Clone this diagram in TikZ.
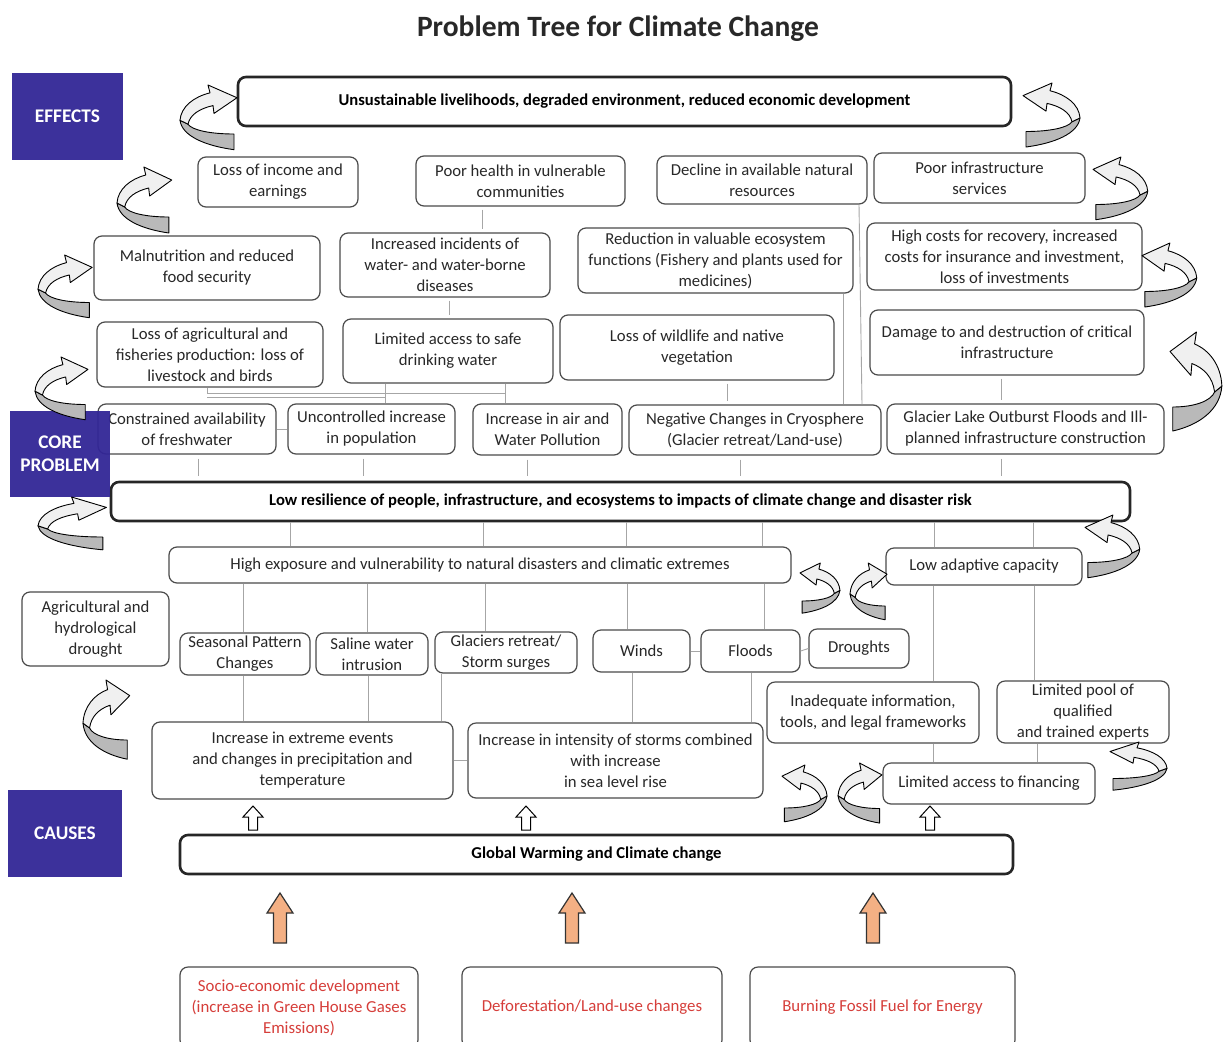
\documentclass[tikz,border=0pt]{standalone}
\usepackage{fontspec}
\setmainfont{Carlito}
\usetikzlibrary{calc}

\definecolor{band}{RGB}{50,38,150}
\definecolor{causered}{RGB}{214,62,58}
\definecolor{peach}{RGB}{244,176,132}
\definecolor{boxline}{RGB}{75,75,75}
\definecolor{ink}{RGB}{40,40,40}

% ribbon-style curled arrow, head at upper right, tail at lower right (57 x 66 box)
\newcommand\curlshape{%
  \filldraw[curldark] (0,36) .. controls (2,52) and (25,62) .. (54,66) -- (54,50)
    .. controls (30,50) and (12,46) .. (8,40) -- cycle;
  \filldraw[curllight] (0,36) .. controls (1,22) and (14,12) .. (30,8) -- (28,0) -- (57,13)
    -- (34,29) -- (33,21) .. controls (20,24) and (10,30) .. (8,40) -- cycle;
}

% node placed by its corners: [style]{x1}{y1}{x2}{y2}{name}{text}
\newcommand\nd[7][box]{\node[#1,minimum width={(#4-#2)*1pt},minimum height={(#5-#3)*1pt}]
  (#6) at ({(#2+#4)/2},{(#3+#5)/2}) {#7};}

\tikzset{
  box/.style={draw=boxline, line width=1.2pt, rounded corners=8pt, fill=white, align=center,
    text=ink, font=\fontsize{16.7}{21}\selectfont, inner sep=0pt},
  bigbox/.style={box, draw=black!85, line width=2.6pt, text=black,
    font=\bfseries\fontsize{16.6}{20}\selectfont},
  causebox/.style={box, text=causered, font=\fontsize{16.8}{21}\selectfont},
  tag/.style={fill=band, fill opacity=0.95, text opacity=1, text=white, align=center, inner sep=0pt,
    font=\bfseries\fontsize{19.3}{23}\selectfont},
  conn/.style={draw=gray!70, line width=0.9pt, shorten <=3pt, shorten >=3pt},
  wire/.style={draw=gray!70, line width=0.9pt},
  curldark/.style={fill=gray!55, draw=black, line width=0.9pt, line join=round},
  curllight/.style={fill=gray!12, draw=black, line width=0.9pt, line join=round},
  pics/curlL/.style={code={\curlshape}},
  pics/curlR/.style={code={\begin{scope}[shift={(57,0)},xscale=-1]\curlshape\end{scope}}},
  pics/hollowup/.style={code={\filldraw[fill=white, draw=black, line width=1pt, line join=miter]
    (-4.5,0) -- (-4.5,-13) -- (-10,-13) -- (0,-24) -- (10,-13) -- (4.5,-13) -- (4.5,0) -- cycle;}},
  pics/peachup/.style={code={\filldraw[fill=peach, draw=black!80, line width=1.2pt]
    (-6.5,0) -- (-6.5,-30) -- (-13,-30) -- (0,-50) -- (13,-30) -- (6.5,-30) -- (6.5,0) -- cycle;}},
}

\begin{document}
\begin{tikzpicture}[x=1pt,y=-1pt]
\useasboundingbox (0,0) rectangle (1225,1041);
\fill[white] (0,0) rectangle (1225,1041);
\clip (0,0) rectangle (1225,1041);

\node[font=\bfseries\fontsize{29.5}{34}\selectfont, text=ink] (title) at (618,29) {Problem Tree for Climate Change};

% ---------------- effects ----------------
\nd[bigbox]{238}{77}{1011}{126}{top}{Unsustainable livelihoods, degraded environment, reduced economic development}

\nd{198}{157}{358}{207}{income}{Loss of income and\\earnings}
\nd{416}{156}{625}{206}{health}{Poor health in vulnerable\\communities}
\nd{657}{156}{867}{204}{decline}{Decline in available natural\\resources}
\nd{874}{153}{1085}{203}{infra}{Poor infrastructure\\services}

\nd{94}{236}{320}{300}{malnut}{Malnutrition and reduced\\food security}
\nd{340}{233}{550}{297}{disease}{Increased incidents of\\water- and water-borne\\diseases}
\nd{578}{228}{853}{293}{ecosys}{Reduction in valuable ecosystem\\functions (Fishery and plants used for\\medicines)}
\nd{867}{223}{1142}{290}{costs}{High costs for recovery, increased\\costs for insurance and investment,\\loss of investments}

\nd{97}{322}{323}{387}{agri}{Loss of agricultural and\\fisheries production: loss of\\livestock and birds}
\nd{343}{319}{553}{383}{water}{Limited access to safe\\drinking water}
\nd{560}{315}{834}{380}{wildlife}{Loss of wildlife and native\\vegetation}
\nd{870}{310}{1144}{375}{damage}{Damage to and destruction of critical\\infrastructure}

% ---------------- core problem ----------------
\nd{98}{404}{276}{454}{fresh}{Constrained availability\\of freshwater}
\nd{288}{404}{455}{454}{pop}{Uncontrolled increase\\in population}
\nd{473}{404}{622}{455}{pollu}{Increase in air and\\Water Pollution}
\nd{629}{405}{881}{455}{cryo}{Negative Changes in Cryosphere\\(Glacier retreat/Land-use)}
\nd{887}{404}{1164}{454}{glof}{Glacier Lake Outburst Floods and Ill-\\planned infrastructure construction}

\nd[bigbox]{111}{482}{1130}{521}{core}{Low resilience of people, infrastructure, and ecosystems to impacts of climate change and disaster risk}

% ---------------- causes ----------------
\nd{169}{547}{791}{583}{expo}{High exposure and vulnerability to natural disasters and climatic extremes}
\nd{886}{548}{1082}{585}{adapt}{Low adaptive capacity}

\nd{22}{592}{169}{666}{drought}{Agricultural and\\hydrological\\drought}
\nd{180}{633}{310}{675}{season}{Seasonal Pattern\\Changes}
\nd{316}{633}{428}{675}{saline}{Saline water\\intrusion}
\nd{435}{632}{577}{673}{glacier}{Glaciers retreat/\\Storm surges}
\nd{593}{630}{690}{672}{winds}{Winds}
\nd{701}{630}{800}{672}{floods}{Floods}
\nd{809}{629}{909}{668}{droughts}{Droughts}

\nd{767}{682}{979}{743}{inadeq}{Inadequate information,\\tools, and legal frameworks}
\nd{997}{681}{1169}{743}{pool}{Limited pool of\\qualified\\and trained experts}

\nd{152}{722}{453}{799}{extreme}{Increase in extreme events\\and changes in precipitation and\\temperature}
\nd{468}{723}{763}{798}{storms}{Increase in intensity of storms combined\\with increase\\in sea level rise}
\nd{883}{763}{1095}{804}{finance}{Limited access to financing}

\nd[bigbox]{180}{835}{1013}{874}{gw}{Global Warming and Climate change}

\nd[causebox]{180}{967}{418}{1048}{socio}{Socio-economic development\\(increase in Green House Gases\\Emissions)}
\nd[causebox]{462}{967}{722}{1048}{defor}{Deforestation/Land-use changes}
\nd[causebox]{750}{967}{1015}{1048}{fossil}{Burning Fossil Fuel for Energy}

% ---------------- links between effects ----------------
\draw[conn] (health.south -| 482,0) -- (disease.north -| 482,0);
\draw[conn] (disease.south -| 449,0) -- (water.north -| 449,0);
\draw[wire] (agri.south -| 207,0) -- (207,393) -- (505,393);
\draw[wire] (207,397) -- (385,397);
\draw[wire] (water.south -| 385,0) -- (pop.north -| 385,0);
\draw[wire] (water.south -| 505,0) -- (pollu.north -| 505,0);
\draw[wire] (fresh.east) -- (pop.west);
\draw[conn] (wildlife.south -| 727,0) -- (cryo.north -| 727,0);
\draw[wire] (ecosys.south -| 843,0) -- (cryo.north -| 843,0);
\draw[wire] (decline.south -| 859,0) -- (cryo.north -| 862,0);
\draw[conn] (damage.south -| 1001,0) -- (glof.north -| 1001,0);

% ---------------- links to the core problem ----------------
\foreach \n/\x in {fresh/198, pop/363, pollu/527, cryo/740, glof/1001}
  \draw[conn, shorten <=4pt, shorten >=5pt] (\n.south -| \x,0) -- (core.north -| \x,0);
\foreach \x in {290, 483, 626, 762}
  \draw[wire] (core.south -| \x,0) -- (expo.north -| \x,0);
\foreach \x in {934, 1033}
  \draw[wire] (core.south -| \x,0) -- (adapt.north -| \x,0);

% ---------------- links among causes ----------------
\foreach \n/\x in {season/243, saline/367, glacier/485, winds/627, floods/764}
  \draw[wire] (expo.south -| \x,0) -- (\n.north -| \x,0);
\foreach \n/\x in {season/243, saline/368, glacier/441}
  \draw[wire] (\n.south -| \x,0) -- (extreme.north -| \x,0);
\foreach \n/\x in {winds/632, floods/751}
  \draw[wire] (\n.south -| \x,0) -- (storms.north -| \x,0);
\draw[wire] (extreme.east) -- (storms.west);
\draw[wire] (winds.east) -- (floods.west);
\draw[wire] (floods.east) -- (droughts.west);
\draw[wire] (adapt.south -| 933,0) -- (inadeq.north -| 933,0);
\draw[wire] (inadeq.south -| 933,0) -- (finance.north -| 933,0);
\draw[wire] (adapt.south -| 1034,0) -- (pool.north -| 1034,0);
\draw[wire] (pool.south -| 1037,0) -- (finance.north -| 1037,0);

% ---------------- block arrows ----------------
\pic at (253,830) {hollowup};
\pic at (526,830) {hollowup};
\pic at (930,830) {hollowup};
\pic at (280,943) {peachup};
\pic at (572,943) {peachup};
\pic at (873,943) {peachup};

% ---------------- section tags ----------------
\nd[tag]{12}{73}{123}{160}{effects}{EFFECTS}
\nd[tag]{10}{411}{110}{497}{coretag}{CORE\\PROBLEM}
\nd[tag]{8}{790}{122}{877}{causes}{CAUSES}

% ---------------- curled arrows ----------------
\pic[xscale=1.0,yscale=0.98] at (180,85) {curlL};
\pic[xscale=0.96,yscale=1.0] at (117,167) {curlL};
\pic[xscale=0.95,yscale=0.95] at (38,255) {curlL};
\pic[xscale=0.93,yscale=0.95] at (35,357) {curlL};
\pic[xscale=1.2,yscale=0.8] at (38,497) {curlL};
\pic[xscale=0.82,yscale=1.2] at (83,680) {curlL};
\pic[xscale=0.65,yscale=0.86] at (850,563) {curlL};
\pic[xscale=0.77,yscale=0.91] at (838,763) {curlL};

\pic[xscale=1.0,yscale=0.97] at (1023,83) {curlR};
\pic[xscale=0.96,yscale=0.95] at (1093,157) {curlR};
\pic[xscale=0.96,yscale=0.97] at (1142,243) {curlR};
\pic[xscale=0.91,yscale=1.5] at (1170,332) {curlR};
\pic[xscale=0.96,yscale=0.95] at (1085,515) {curlR};
\pic[xscale=0.7,yscale=0.76] at (800,563) {curlR};
\pic[xscale=1.0,yscale=0.73] at (1110,742) {curlR};
\pic[xscale=0.79,yscale=0.86] at (782,765) {curlR};
\end{tikzpicture}
\end{document}
